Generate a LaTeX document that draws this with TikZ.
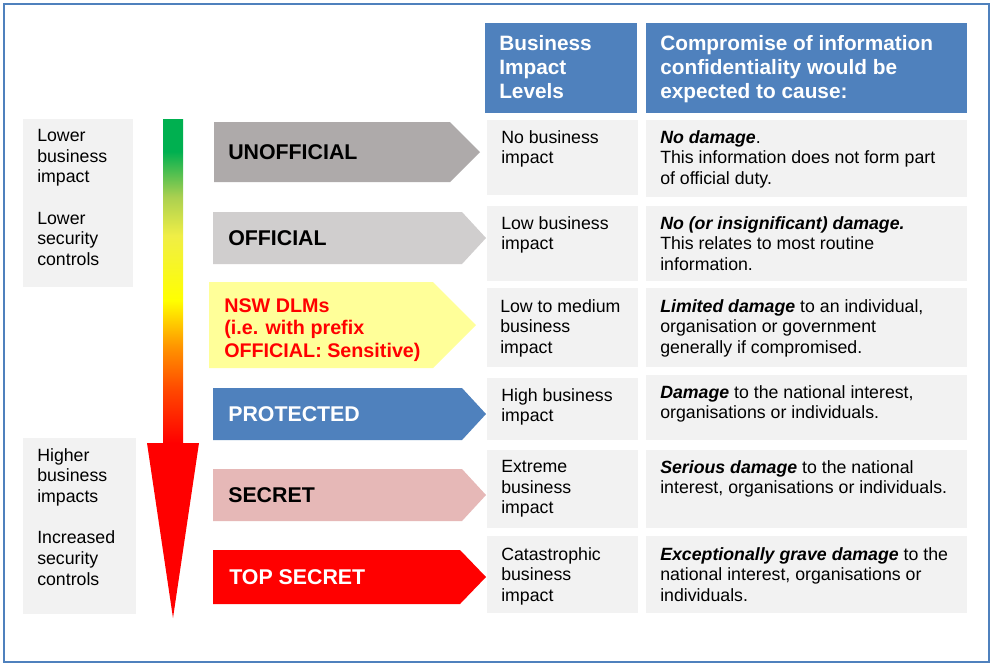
\documentclass[tikz,border=0pt]{standalone}
\usepackage{fontspec}
\setmainfont{Liberation Sans}
\usepackage{xcolor}
\usepackage{tikz}
\usetikzlibrary{positioning}
\definecolor{frameblue}{RGB}{79,129,189}
\definecolor{cellgrey}{RGB}{242,242,242}
\definecolor{unoffgrey}{RGB}{174,170,170}
\definecolor{offgrey}{RGB}{208,206,206}
\definecolor{dlmyellow}{RGB}{255,255,153}
\definecolor{secpink}{RGB}{230,184,183}
\definecolor{riskgreen}{RGB}{0,176,80}
\newcommand{\dmg}[1]{\textbf{\textit{#1}}}
% colour bar of the big arrow, bottom (red) to top (green)
\pgfdeclareverticalshading{riskbar}{100bp}{color(0bp)=(red); color(25bp)=(red);
  color(33bp)=(rgb,255:red,255;green,70;blue,0); color(40bp)=(rgb,255:red,255;green,150;blue,0);
  color(47bp)=(yellow); color(57bp)=(rgb,255:red,240;green,238;blue,70);
  color(63bp)=(rgb,255:red,170;green,208;blue,80); color(70bp)=(riskgreen); color(100bp)=(riskgreen)}

\begin{document}
\begin{tikzpicture}[x=0.75pt,y=-0.75pt,
  cell/.style={fill=cellgrey},
  hdr/.style={fill=frameblue},
  txt/.style={anchor=north west,inner sep=0pt,align=left,font=\fontsize{13.3}{15.5}\selectfont},
  hdrtxt/.style={anchor=north west,inner sep=0pt,align=left,text=white,font=\fontsize{15.6}{18}\selectfont\bfseries},
  band/.style={anchor=west,inner sep=0pt,font=\fontsize{16}{18}\selectfont\bfseries}]
\useasboundingbox (0,0) rectangle (995,669);
\fill[white] (0,0) rectangle (995,669);
\draw[frameblue,line width=1.8pt] (4,4) rectangle (989,662);

% side notes
\fill[cell] (23,119) rectangle (133,287);
\fill[cell] (23,438) rectangle (136,614);
\node[txt] (lownote) at (37,129) {Lower\\business\\impact\\[15.5pt]Lower\\security\\controls};
\node[txt] (highnote) at (37,448) {Higher\\business\\impacts\\[15.5pt]Increased\\security\\controls};

% risk arrow
\shade[shading=riskbar] (163,119) rectangle (183,443);
\fill[red] (147,443) -- (199,443) -- (173,618) -- cycle;

% classification bands
\fill[unoffgrey] (214,122) -- (450,122) -- (480,152) -- (450,182) -- (214,182) -- cycle;
\fill[offgrey] (213,212) -- (462,212) -- (486,238) -- (462,264) -- (213,264) -- cycle;
\fill[dlmyellow] (209,282) -- (433,282) -- (476,325) -- (433,368) -- (209,368) -- cycle;
\fill[frameblue] (213,388) -- (462,388) -- (486,414) -- (462,440) -- (213,440) -- cycle;
\fill[secpink] (213,469) -- (462,469) -- (486,495) -- (462,521) -- (213,521) -- cycle;
\fill[red] (213,550) -- (460,550) -- (486,577) -- (460,604) -- (213,604) -- cycle;
\node[band] (unoff) at (228,152) {UNOFFICIAL};
\node[band] (off) at (228,238) {OFFICIAL};
\node[txt,text=red,font=\fontsize{14.8}{16.9}\selectfont\bfseries] (dlm) at (224,298) {NSW DLMs\\(i.e. with prefix\\OFFICIAL: Sensitive)};
\node[band,text=white] (prot) at (228,414) {PROTECTED};
\node[band] (sec) at (228,495) {SECRET};
\node[band,text=white] (topsec) at (229,577) {TOP SECRET};

% table
\fill[hdr] (485,23) rectangle (637,113);
\fill[hdr] (646,23) rectangle (967,113);
\node[hdrtxt] (bil) at (499,35) {Business\\Impact\\Levels};
\node[hdrtxt] (cause) at (660,35) {Compromise of information\\confidentiality would be\\expected to cause:};

\fill[cell] (487,120) rectangle (638,195);
\fill[cell] (646,120) rectangle (967,197);
\fill[cell] (487,206) rectangle (638,281);
\fill[cell] (646,206) rectangle (967,281);
\fill[cell] (487,288) rectangle (638,367);
\fill[cell] (646,288) rectangle (967,367);
\fill[cell] (487,378) rectangle (638,440);
\fill[cell] (646,375) rectangle (967,440);
\fill[cell] (487,450) rectangle (638,528);
\fill[cell] (646,450) rectangle (967,528);
\fill[cell] (487,536) rectangle (638,613);
\fill[cell] (646,536) rectangle (967,613);

\node[txt] (bil1) at (501,130) {No business\\impact};
\node[txt] (bil2) at (501,216) {Low business\\impact};
\node[txt] (bil3) at (500,299) {Low to medium\\business\\impact};
\node[txt] (bil4) at (501,388) {High business\\impact};
\node[txt] (bil5) at (501,460) {Extreme\\business\\impact};
\node[txt] (bil6) at (501,547) {Catastrophic\\business\\impact};

\node[txt] (cause1) at (660,130) {\dmg{No damage}.\\This information does not form part\\of official duty.};
\node[txt] (cause2) at (660,216) {\dmg{No (or insignificant) damage.}\\This relates to most routine\\information.};
\node[txt] (cause3) at (660,299) {\dmg{Limited damage} to an individual,\\organisation or government\\generally if compromised.};
\node[txt] (cause4) at (660,385) {\dmg{Damage} to the national interest,\\organisations or individuals.};
\node[txt] (cause5) at (660,460) {\dmg{Serious damage} to the national\\interest, organisations or individuals.};
\node[txt] (cause6) at (660,547) {\dmg{Exceptionally grave damage} to the\\national interest, organisations or\\individuals.};
\end{tikzpicture}
\end{document}
